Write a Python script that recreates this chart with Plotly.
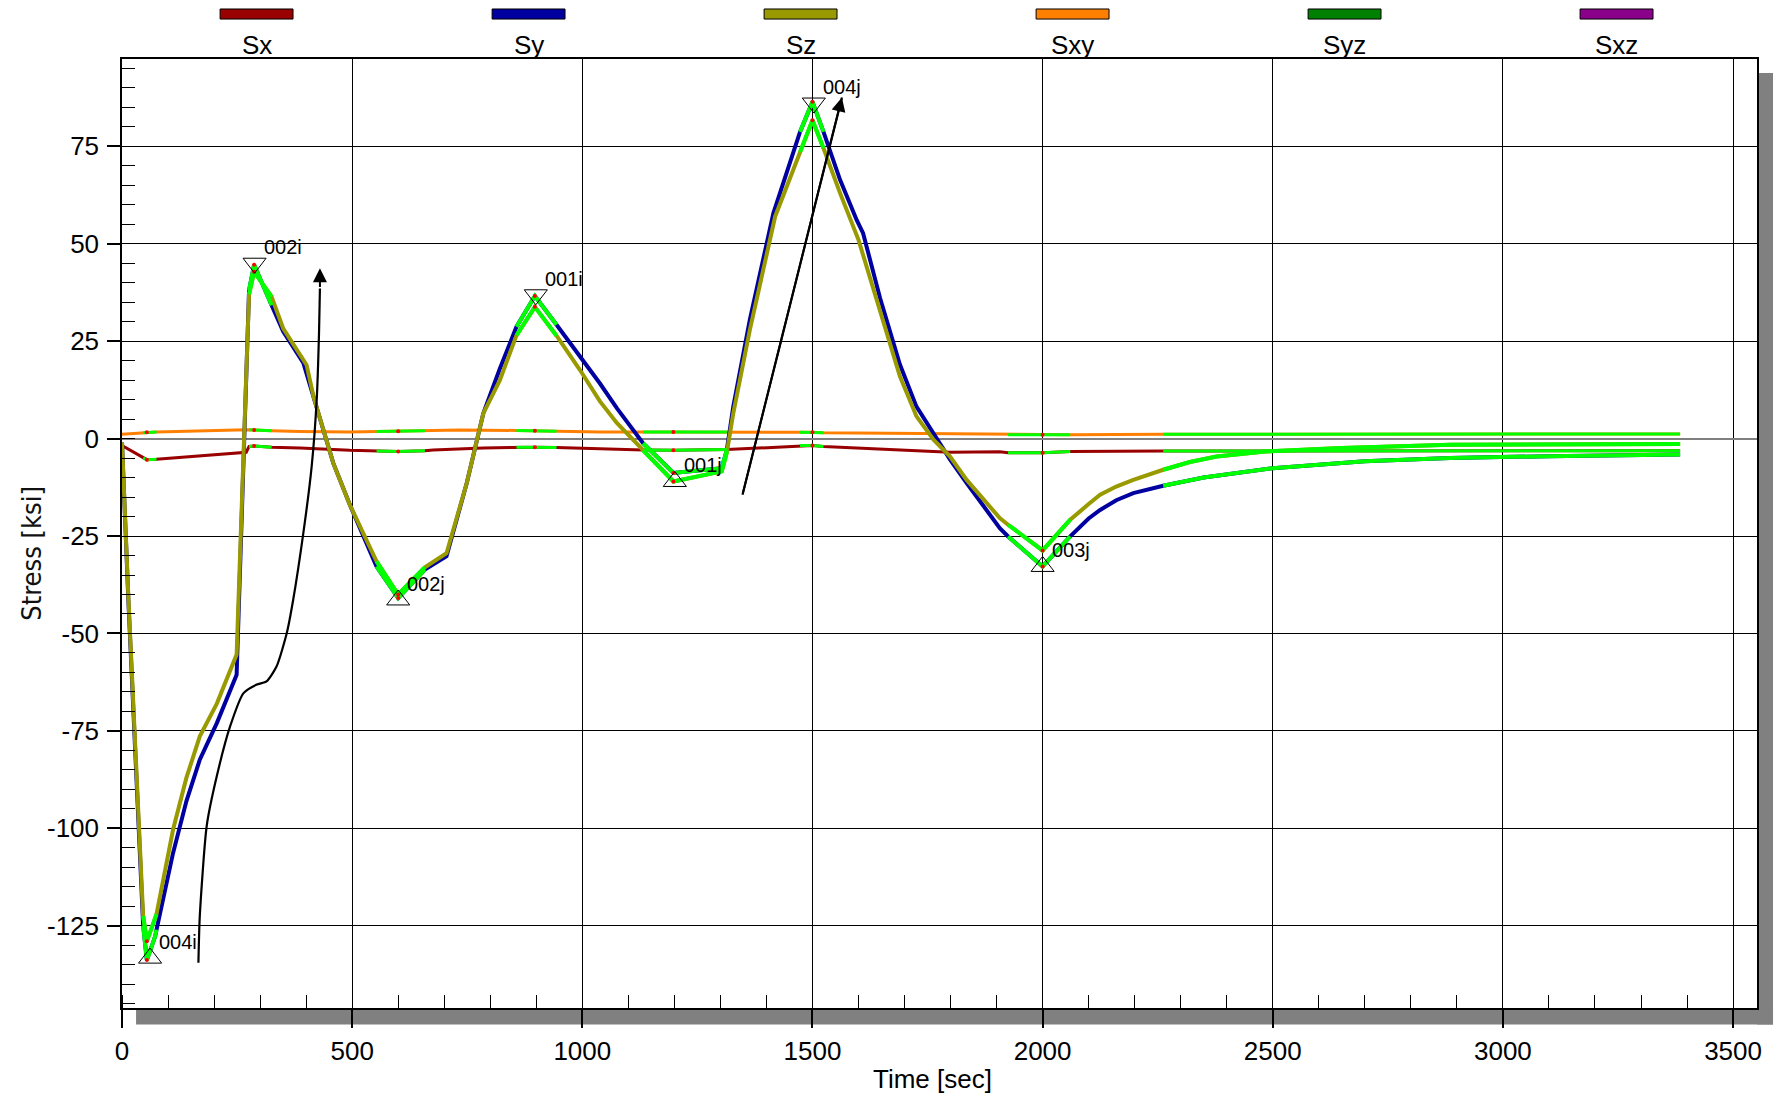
import plotly.graph_objects as go

# ---------------- data ----------------
series_names = ["Sx", "Sy", "Sz", "Sxy", "Syz", "Sxz"]
series_colors = ["#990000", "#0000A0", "#999900", "#FF8000", "#008000", "#8B008B"]

sx_t = [0, 46, 54, 75, 252, 270, 276, 287, 325, 387, 495, 553, 600, 658, 676, 785, 857, 897,
        944, 1002, 1038, 1132, 1198, 1314, 1473, 1500, 1524, 1690, 1799, 1907, 1925, 2000, 2060,
        2262, 3385]
sx_v = [-1.8, -5.0, -5.4, -5.3, -3.7, -3.5, -2.0, -1.9, -2.2, -2.4, -3.0, -3.2, -3.3, -3.1, -2.9,
        -2.4, -2.2, -2.2, -2.3, -2.4, -2.6, -2.9, -3.0, -2.8, -1.8, -1.8, -2.0, -2.8, -3.5, -3.4,
        -3.6, -3.6, -3.3, -3.2, -3.1]

sy_t = [0, 14, 46, 54, 72, 75, 111, 140, 169, 206, 249, 276, 287, 325, 350, 394, 416, 459, 495,
        553, 600, 658, 705, 749, 785, 821, 857, 897, 944, 999, 1038, 1075, 1125, 1132, 1198, 1303,
        1314, 1328, 1364, 1415, 1473, 1500, 1524, 1560, 1596, 1610, 1647, 1690, 1726, 1763, 1799,
        1835, 1907, 1925, 2000, 2060, 2100, 2125, 2160, 2197, 2262, 2350, 2500, 2700, 2885, 3100,
        3385]
sy_v = [-1, -42, -125, -133.8, -127.7, -126, -106.3, -93, -82.4, -73, -60.6, 38, 44.6, 34.2,
        27.5, 19.4, 10.8, -6.3, -17, -32.8, -40.9, -33.6, -30.2, -11.4, 6.5, 18, 28.7, 36.6,
        29.2, 20.6, 14.2, 7.8, -0.3, -1.2, -8.8, -7.6, -2.9, 8.2, 30.5, 57.8, 78.7, 86.4, 78.7,
        66.4, 56.1, 52.7, 36, 19, 8.2, 1.4, -5.4, -11.4, -23, -25.1, -32.8, -25.1, -20.5, -18.3,
        -15.8, -14, -12.1, -10, -7.6, -5.8, -5.0, -4.5, -4.1]

sz_t = [0, 14, 46, 54, 75, 111, 140, 169, 206, 249, 276, 287, 325, 350, 401, 416, 459, 495, 553,
        600, 658, 705, 749, 785, 821, 857, 897, 944, 995, 1038, 1075, 1125, 1132, 1198, 1303,
        1314, 1328, 1364, 1419, 1473, 1500, 1524, 1560, 1600, 1640, 1690, 1726, 1763, 1799, 1835,
        1907, 1925, 2000, 2060, 2100, 2125, 2160, 2197, 2262, 2320, 2378, 2483, 2650, 2885, 3385]
sz_v = [-1, -41, -122.5, -129, -122, -100.3, -87, -76.4, -68, -55.4, 37, 42.8, 36.4, 28.3, 18.9,
        10.8, -6.3, -17, -31.5, -40, -33, -29.4, -11.4, 6.5, 15, 26.5, 33.8, 26.4, 17.6, 9.6, 4,
        -2, -3, -11, -8.4, -3.5, 6.5, 27.9, 57, 73.5, 81.7, 74.5, 63, 51, 35.6, 16, 5.7, -0.3,
        -4.6, -10.6, -20.4, -22.1, -28.7, -20.8, -16.8, -14.4, -12.3, -10.6, -8, -6, -4.6, -3.3,
        -2.4, -1.6, -1.4]

sxy_t = [0, 46, 54, 75, 270, 276, 287, 325, 387, 495, 553, 600, 658, 734, 857, 897, 944, 1038,
         1132, 1198, 1314, 1473, 1500, 1524, 1690, 1907, 1925, 2000, 2060, 2262, 3385]
sxy_v = [1.1, 1.5, 1.6, 1.7, 2.3, 2.3, 2.2, 2.0, 1.8, 1.7, 1.8, 1.9, 2.0, 2.2, 2.1, 2.0, 1.9, 1.7,
         1.7, 1.7, 1.7, 1.6, 1.6, 1.5, 1.3, 1.2, 1.0, 1.0, 1.0, 1.1, 1.2]

# highlighted (selected) time windows and event times
highlight_windows = [(46, 75), (276, 325), (553, 658), (857, 944), (1132, 1314),
                     (1473, 1524), (1925, 2060), (2262, 3385)]
event_times = [54, 287, 600, 897, 1198, 1500, 2000]

# extreme-point markers
marker_labels = ["004i", "002i", "002j", "001i", "001j", "004j", "003j"]
marker_t = [61, 288, 600, 899, 1201, 1503, 2000]
marker_v = [-133.3, 45.0, -41.4, 36.9, -11.0, 86.1, -32.8]
marker_kind = ["up", "down", "up", "down", "up", "down", "up"]

# annotation arrows (time, stress)
arrow1_t = [166, 169, 184, 206, 235, 264, 293, 314, 336, 358, 372, 394, 412, 423, 428, 430, 430]
arrow1_v = [-134.5, -122.5, -99.4, -86.6, -73.8, -65.3, -63.1, -62.3, -58.4, -49.9, -41.3,
            -24.2, -7.2, 10, 27, 38.5, 43.7]
arrow2_t = [1348, 1564]
arrow2_v = [-14.4, 87.5]

x_ticks = [0, 500, 1000, 1500, 2000, 2500, 3000, 3500]
y_ticks = [-125, -100, -75, -50, -25, 0, 25, 50, 75]

# ---------------- figure ----------------
FONT = "Liberation Sans, Arial, sans-serif"
GREEN = "#00FF00"
fig = go.Figure()

line_series = [
    (sx_t, sx_v, series_colors[0], 3),
    (sxy_t, sxy_v, series_colors[3], 3),
    (sy_t, sy_v, series_colors[1], 4),
    (sz_t, sz_v, series_colors[2], 4),
]

for t, v, c, w in line_series:
    fig.add_trace(go.Scatter(x=t, y=v, mode="lines", line=dict(color=c, width=w),
                             hoverinfo="skip", showlegend=False))

for t, v, c, w in line_series:
    gx, gy = [], []
    for a, b in highlight_windows:
        for ti, vi in zip(t, v):
            if a <= ti <= b:
                gx.append(ti)
                gy.append(vi)
        gx.append(None)
        gy.append(None)
    fig.add_trace(go.Scatter(x=gx, y=gy, mode="lines", line=dict(color=GREEN, width=w),
                             hoverinfo="skip", showlegend=False))

rx, ry = [], []
for t, v, c, w in line_series:
    for ti, vi in zip(t, v):
        if ti in event_times:
            rx.append(ti)
            ry.append(vi)
fig.add_trace(go.Scatter(x=rx, y=ry, mode="markers",
                         marker=dict(color="#FF0000", size=4, symbol="circle"),
                         hoverinfo="skip", showlegend=False))

fig.add_trace(go.Scatter(
    x=marker_t, y=marker_v, mode="markers",
    marker=dict(symbol=["triangle-up-open" if k == "up" else "triangle-down-open" for k in marker_kind],
                size=20, color="black", line=dict(width=1, color="black")),
    hoverinfo="skip", showlegend=False))

# arrows
fig.add_trace(go.Scatter(x=arrow1_t[:-1], y=arrow1_v[:-1], mode="lines",
                         line=dict(color="black", width=2.2, shape="spline", smoothing=0.6),
                         hoverinfo="skip", showlegend=False))
fig.add_trace(go.Scatter(x=arrow2_t, y=arrow2_v,
                         mode="lines", line=dict(color="black", width=2.2),
                         hoverinfo="skip", showlegend=False))

annotations = []
for at, av in ((arrow1_t, arrow1_v), (arrow2_t, arrow2_v)):
    annotations.append(dict(x=at[-1], y=av[-1], ax=at[-2], ay=av[-2], xref="x", yref="y",
                            axref="x", ayref="y", text="", showarrow=True, arrowhead=2,
                            arrowsize=1.4, arrowwidth=2, arrowcolor="black", standoff=0,
                            startstandoff=0))

for lab, t, v in zip(marker_labels, marker_t, marker_v):
    annotations.append(dict(x=t, y=v, xref="x", yref="y", text=lab, showarrow=False,
                            xanchor="left", yanchor="middle", xshift=7, yshift=16,
                            font=dict(family=FONT, size=20, color="black")))

# legend (swatches above the plot)
shapes = []
leg_x0 = 0.0823
leg_dx = 0.16636
for i, (nm, col) in enumerate(zip(series_names, series_colors)):
    cx = leg_x0 + i * leg_dx
    shapes.append(dict(type="rect", xref="paper", yref="paper", x0=cx - 0.0223, x1=cx + 0.0223,
                       y0=1.0421, y1=1.0527, fillcolor=col, line=dict(color="black", width=1)))
    annotations.append(dict(x=cx, y=1.0147, xref="paper", yref="paper", text=nm,
                            showarrow=False, xanchor="center", yanchor="middle",
                            font=dict(family=FONT, size=26, color="black")))

# drop shadow of the plot frame
shapes.append(dict(type="rect", xref="paper", yref="paper", x0=0.0086, x1=1.0098, y0=-0.0174,
                   y1=0, fillcolor="#808080", line=dict(width=0), layer="below"))
shapes.append(dict(type="rect", xref="paper", yref="paper", x0=1.0, x1=1.0098, y0=-0.0174,
                   y1=0.9853, fillcolor="#808080", line=dict(width=0), layer="below"))

annotations.append(dict(x=0.496, y=-0.0753, xref="paper", yref="paper", text="Time [sec]",
                        showarrow=False, xanchor="center", yanchor="middle",
                        font=dict(family=FONT, size=26, color="black")))
annotations.append(dict(x=-0.055, y=0.4787, xref="paper", yref="paper", text="Stress [ksi]",
                        showarrow=False, xanchor="center", yanchor="middle", textangle=-90,
                        font=dict(family="DejaVu Sans Condensed, " + FONT, size=27, color="#111111")))

fig.update_layout(
    width=1779, height=1097,
    margin=dict(l=122, r=22, t=59, b=89, pad=0),
    paper_bgcolor="white", plot_bgcolor="white",
    showlegend=False,
    shapes=shapes, annotations=annotations,
    font=dict(family=FONT, size=26, color="black"),
)
fig.update_xaxes(
    range=[0, 3552], tickvals=x_ticks, ticktext=[str(v) for v in x_ticks],
    ticks="outside", ticklen=18, tickwidth=1.5, tickcolor="black", ticklabelstandoff=1,
    showgrid=True, gridcolor="black", gridwidth=1, zeroline=False,
    showline=True, linecolor="black", linewidth=1.5, mirror=True,
    tickfont=dict(family=FONT, size=26, color="black"),
    minor=dict(dtick=100, ticks="inside", ticklen=13, tickcolor="black", tickwidth=1,
               showgrid=False),
)
fig.update_yaxes(
    range=[-146.1, 97.4], tickvals=y_ticks, ticktext=[str(v) for v in y_ticks],
    ticks="outside", ticklen=13, tickwidth=1.5, tickcolor="black", ticklabelstandoff=3,
    showgrid=True, gridcolor="black", gridwidth=1, zeroline=True, zerolinecolor="#808080",
    zerolinewidth=2,
    showline=True, linecolor="black", linewidth=1.5, mirror=True,
    tickfont=dict(family=FONT, size=26, color="black"),
    minor=dict(dtick=5, ticks="inside", ticklen=13, tickcolor="black", tickwidth=1,
               showgrid=False),
)

fig.write_html("out.html", config={"displayModeBar": False},
               post_script="document.body.style.margin='0';document.body.style.overflow='hidden';")
